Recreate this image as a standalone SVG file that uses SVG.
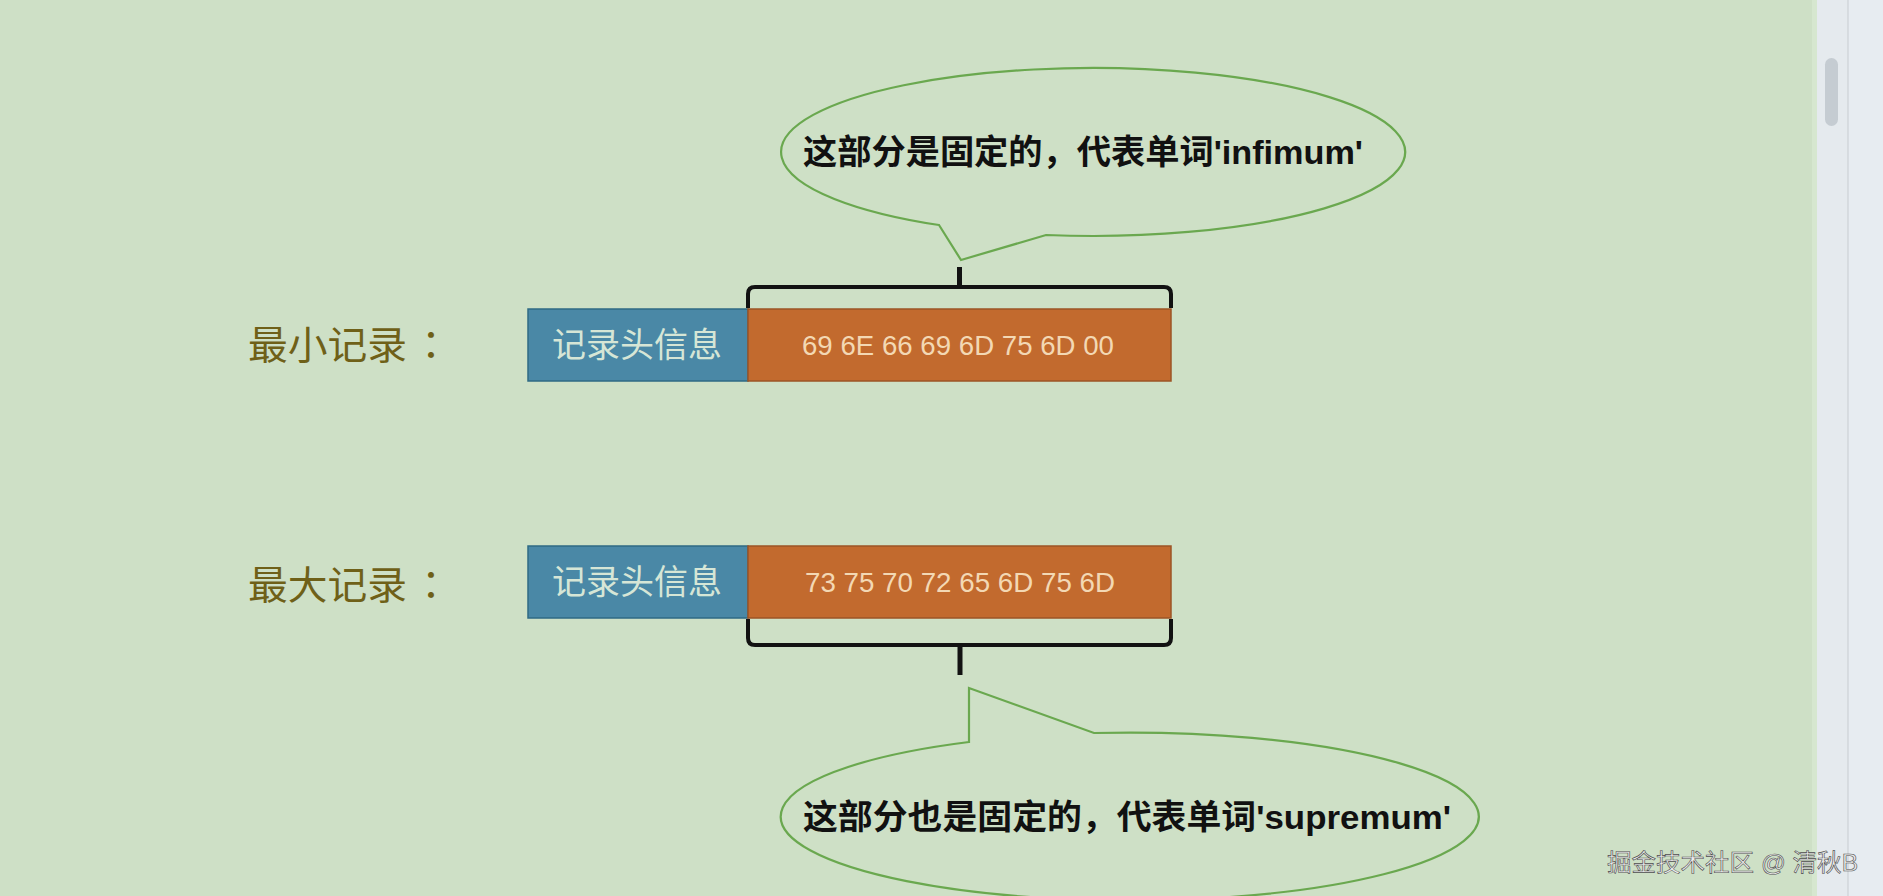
<svg xmlns="http://www.w3.org/2000/svg" width="1883" height="896" viewBox="0 0 1883 896">
  <style>
    .label { font-family: "Liberation Sans", "Noto Sans CJK SC", sans-serif; font-size: 39px; fill: #6f6018; }
    .colon { font-family: "Noto Sans CJK JP", "Noto Sans CJK TC", sans-serif; font-size: 39px; fill: #6f6018; text-anchor: middle; }
    .hdr { font-family: "Liberation Sans", "Noto Sans CJK SC", sans-serif; font-size: 34px; fill: #d6e6d6; text-anchor: middle; }
    .hex { font-family: "Liberation Sans", "Noto Sans CJK SC", sans-serif; font-size: 27px; fill: #f3d8b4; text-anchor: middle; }
    .note { font-family: "Liberation Sans", "Noto Sans CJK SC", sans-serif; font-size: 34px; font-weight: bold; fill: #111111; text-anchor: middle; }
    .blue { fill: #4a88a6; stroke: #2f6a84; stroke-width: 1.5; }
    .orange { fill: #c26a2e; stroke: #9c5426; stroke-width: 1.5; }
    .brace { fill: none; stroke: #121212; stroke-width: 4; stroke-linejoin: round; }
    .tick { fill: none; stroke: #121212; stroke-width: 5; }
    .bubble { fill: #cee0c6; stroke: #6aa84f; stroke-width: 2.2; stroke-linejoin: miter; }
    .wm { font-family: "Liberation Sans", "Noto Sans CJK SC", sans-serif; font-size: 24px; fill: #ececec; stroke: #4a4a4a; stroke-width: 0.6; }
  </style>
  <rect x="0" y="0" width="1883" height="896" fill="#cee0c6"/>
  <!-- right side UI strip -->
  <rect x="1812" y="0" width="5" height="896" fill="#d6e7cf"/>
  <rect x="1817" y="0" width="31" height="896" fill="#e5eaee"/>
  <rect x="1848" y="0" width="35" height="896" fill="#e7ecf1"/>
  <line x1="1848" y1="0" x2="1848" y2="896" stroke="#c7ccd1" stroke-width="1"/>
  <rect x="1825" y="58" width="13" height="68" rx="6.5" fill="#c5ccd2"/>

  <g id="label-min">
    <text class="label" x="248" y="359" textLength="159" lengthAdjust="spacingAndGlyphs">最小记录</text>
    <text class="colon" x="431" y="359">：</text>
  </g>
  <g id="label-max">
    <text class="label" x="248" y="599" textLength="159" lengthAdjust="spacingAndGlyphs">最大记录</text>
    <text class="colon" x="431" y="599">：</text>
  </g>

  <g id="min-header">
    <rect class="blue" x="528" y="309" width="220" height="72"/>
    <text class="hdr" x="637" y="357">记录头信息</text>
  </g>
  <g id="min-data">
    <rect class="orange" x="748" y="309" width="423" height="72"/>
    <text class="hex" x="958" y="355" textLength="312" lengthAdjust="spacingAndGlyphs">69 6E 66 69 6D 75 6D 00</text>
  </g>

  <g id="max-header">
    <rect class="blue" x="528" y="546" width="220" height="72"/>
    <text class="hdr" x="637" y="594">记录头信息</text>
  </g>
  <g id="max-data">
    <rect class="orange" x="748" y="546" width="423" height="72"/>
    <text class="hex" x="960" y="592" textLength="310" lengthAdjust="spacingAndGlyphs">73 75 70 72 65 6D 75 6D</text>
  </g>

  <g id="connectors">
    <path class="brace" d="M748,308 L748,294 Q748,287 755,287 L1164,287 Q1171,287 1171,294 L1171,308"/>
    <line class="tick" x1="959.5" y1="287" x2="959.5" y2="267"/>
    <path class="brace" d="M748,619 L748,638 Q748,645 755,645 L1164,645 Q1171,645 1171,638 L1171,619"/>
    <line class="tick" x1="960" y1="645" x2="960" y2="675"/>
  </g>

  <g id="note-infimum">
    <path class="bubble" d="M939,225 L961,260 L1046,235 A312 84 0 1 0 939,225 Z"/>
    <text class="note" x="1083" y="164" textLength="560" lengthAdjust="spacingAndGlyphs">这部分是固定的，代表单词'infimum'</text>
  </g>

  <g id="note-supremum">
    <path class="bubble" d="M969,742 L969,688 L1094,733 A349 84 0 1 1 969,742 Z"/>
    <text class="note" x="1127" y="829" textLength="648" lengthAdjust="spacingAndGlyphs">这部分也是固定的，代表单词'supremum'</text>
  </g>

  <g id="watermark">
    <text class="wm" x="1607" y="871" textLength="251" lengthAdjust="spacingAndGlyphs">掘金技术社区 @ 清秋B</text>
  </g>
</svg>
